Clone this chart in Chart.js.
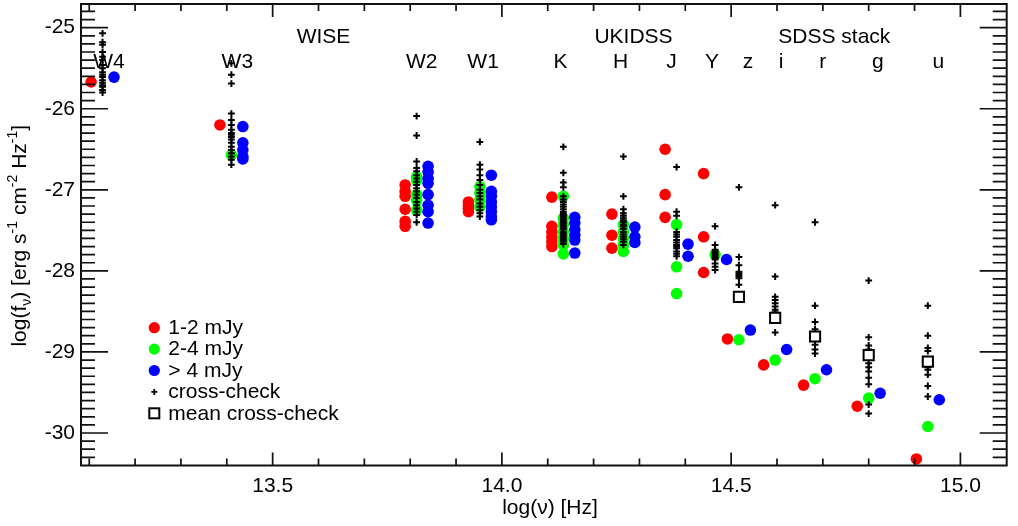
<!DOCTYPE html>
<html>
<head>
<meta charset="utf-8">
<script src="https://cdn.jsdelivr.net/npm/chart.js@4.4.1/dist/chart.umd.min.js"></script>
<style>
html,body{margin:0;padding:0;background:#fff;overflow:hidden}
canvas{display:block}
</style>
</head>
<body>
<canvas id="c" width="1018" height="526" style="width:1018px;height:526px"></canvas>
<script>
// ---------------- data ----------------
const bands = ['W4','W3','W2','W1','K','H','J','Y','z','i','r','g','u'];
const bandLogNu = [13.129,13.410,13.814,13.952,14.134,14.265,14.381,14.465,14.517,14.596,14.683,14.800,14.929];
const bandLabelNu = [13.143,13.423,13.825,13.959,14.128,14.259,14.370,14.458,14.537,14.609,14.700,14.820,14.952];
const surveys = ['WISE','UKIDSS','SDSS stack'];
const surveyLabelNu = [13.611,14.287,14.725];

const flux1to2 = [
  [-25.67],
  [-26.20],
  [-26.94,-27.02,-27.08,-27.24,-27.39,-27.45],
  [-27.15,-27.19,-27.23,-27.27],
  [-27.09,-27.45,-27.52,-27.58,-27.64,-27.70],
  [-27.30,-27.56,-27.72],
  [-26.50,-27.06,-27.34],
  [-26.80,-27.58,-28.02],
  [-28.84],
  [-29.16],
  [-29.41],
  [-29.67],
  [-30.32]
];
const flux2to4 = [
  [],
  [-26.57],
  [-26.84,-26.88,-27.06,-27.13,-27.25],
  [-26.96,-27.04,-27.12,-27.21],
  [-27.08,-27.35,-27.43,-27.52,-27.60,-27.68,-27.79],
  [-27.43,-27.52,-27.60,-27.68,-27.76],
  [-27.43,-27.95,-28.28],
  [-27.80],
  [-28.85],
  [-29.10],
  [-29.33],
  [-29.57],
  [-29.92]
];
const fluxGt4 = [
  [-25.61],
  [-26.22,-26.42,-26.51,-26.59,-26.62],
  [-26.71,-26.78,-26.86,-26.92,-27.06,-27.19,-27.27,-27.41],
  [-26.82,-27.02,-27.08,-27.15,-27.21,-27.27,-27.33,-27.37],
  [-27.34,-27.41,-27.49,-27.56,-27.62,-27.78],
  [-27.46,-27.58,-27.65],
  [-27.67,-27.82],
  [-27.86],
  [-28.73],
  [-28.97],
  [-29.22],
  [-29.51],
  [-29.59]
];
const crossCheck = [
  [-25.07,-25.18,-25.21,-25.30,-25.36,-25.40,-25.46,-25.50,-25.55,-25.58,-25.61,-25.65,-25.68,-25.71,-25.73,-25.77,-25.80],
  [-25.44,-25.58,-25.69,-26.06,-26.14,-26.20,-26.26,-26.30,-26.32,-26.35,-26.38,-26.42,-26.47,-26.51,-26.55,-26.59,-26.63,-26.69],
  [-26.09,-26.33,-26.65,-26.73,-26.77,-26.82,-26.86,-26.90,-26.94,-26.98,-27.02,-27.06,-27.10,-27.15,-27.19,-27.23,-27.27,-27.31,-27.40],
  [-26.41,-26.69,-26.75,-26.82,-26.88,-26.94,-27.00,-27.04,-27.08,-27.12,-27.17,-27.21,-27.25,-27.29,-27.33],
  [-26.47,-26.79,-26.91,-26.97,-27.08,-27.12,-27.15,-27.18,-27.21,-27.24,-27.27,-27.29,-27.31,-27.33,-27.35,-27.37,-27.39,-27.41,-27.43,-27.45,-27.47,-27.49,-27.52,-27.54,-27.56,-27.58,-27.60,-27.62,-27.64,-27.67],
  [-26.59,-27.08,-27.24,-27.29,-27.32,-27.35,-27.38,-27.40,-27.43,-27.45,-27.48,-27.52,-27.55,-27.58,-27.61,-27.64,-27.68],
  [-26.72,-27.27,-27.32,-27.52,-27.55,-27.58,-27.62,-27.65,-27.68,-27.70,-27.72,-27.76,-27.79,-27.82],
  [-27.45,-27.68,-27.74,-27.76,-27.78,-27.80,-27.82,-27.84,-27.86,-27.91,-27.95,-27.99],
  [-26.97,-27.83,-27.93,-28.01,-28.03,-28.05,-28.07,-28.09,-28.17],
  [-27.19,-28.07,-28.32,-28.36,-28.40,-28.44,-28.48,-28.51,-28.76],
  [-27.40,-28.43,-28.63,-28.72,-28.78,-28.85,-28.91,-28.97,-29.02],
  [-28.12,-28.82,-28.92,-28.97,-29.14,-29.19,-29.24,-29.32,-29.40,-29.65,-29.76],
  [-28.43,-28.80,-28.95,-28.99,-29.19,-29.22,-29.28,-29.42,-29.55]
];
const meanCrossCheck = [null,null,null,null,null,null,null,null,-28.32,-28.58,-28.81,-29.04,-29.12];

const xTicks = [13.5,14.0,14.5,15.0];
const yTicks = [-25,-26,-27,-28,-29,-30];
const legendLabels = ['1-2 mJy','2-4 mJy','> 4 mJy','cross-check','mean cross-check'];

// ---------------- styling ----------------
const FONT = '"Liberation Sans", Arial, Helvetica, sans-serif';
const BAND_OFFSET = 0.025;
const SURVEY_LABEL_Y = -25.12;
const BAND_LABEL_Y = -25.43;
const RED = '#ff0000', GREEN = '#00ff00', BLUE = '#0000ff', INK = '#000000';

function toPoints(groups, dx) {
  const out = [];
  groups.forEach((vals, i) => {
    (Array.isArray(vals) ? vals : [vals]).forEach(v => {
      if (v !== null && v !== undefined) out.push({x: bandLogNu[i] + dx, y: v});
    });
  });
  return out;
}

const circleDs = (label, data, color, order) => ({
  label, data, order, clip: false,
  pointStyle: 'circle', pointRadius: 5.8, pointBorderWidth: 0,
  pointBackgroundColor: color, pointBorderColor: color
});

const framePlugin = {
  id: 'frame',
  beforeDatasetsDraw(chart) {
    const {ctx, scales: {x, y}} = chart;
    ctx.save();
    ctx.fillStyle = INK;
    ctx.font = '21px ' + FONT;
    ctx.textAlign = 'center';
    ctx.textBaseline = 'middle';
    surveys.forEach((s, i) => ctx.fillText(s, x.getPixelForValue(surveyLabelNu[i]), y.getPixelForValue(SURVEY_LABEL_Y)));
    bands.forEach((b, i) => ctx.fillText(b, x.getPixelForValue(bandLabelNu[i]), y.getPixelForValue(BAND_LABEL_Y)));
    ctx.restore();
  },
  afterDatasetsDraw(chart) {
    const {ctx, chartArea: a, scales: {x, y}} = chart;
    ctx.save();
    // ticks
    ctx.strokeStyle = '#111';
    ctx.lineWidth = 1.7;
    ctx.beginPath();
    for (let k = Math.ceil(x.min * 10); k <= Math.floor(x.max * 10); k++) {
      const px = x.getPixelForValue(k / 10);
      if (px < a.left + 1 || px > a.right - 1) continue;
      const len = (k % 5 === 0) ? 13 : 7;
      ctx.moveTo(px, a.bottom); ctx.lineTo(px, a.bottom - len);
      ctx.moveTo(px, a.top); ctx.lineTo(px, a.top + len);
    }
    for (let k = Math.ceil(y.min * 10); k <= Math.floor(y.max * 10); k++) {
      const py = y.getPixelForValue(k / 10);
      if (py < a.top + 1 || py > a.bottom - 1) continue;
      const len = (k % 10 === 0) ? 27 : 14;
      ctx.moveTo(a.left, py); ctx.lineTo(a.left + len, py);
      ctx.moveTo(a.right, py); ctx.lineTo(a.right - len, py);
    }
    ctx.stroke();
    // frame
    ctx.lineWidth = 2;
    ctx.strokeRect(a.left, a.top, a.right - a.left, a.bottom - a.top);

    // x title
    ctx.fillStyle = INK;
    ctx.font = '21px ' + FONT;
    ctx.textAlign = 'center';
    ctx.textBaseline = 'alphabetic';
    ctx.fillText('log(\u03bd) [Hz]', a.left + 469, 513.5);

    // y title with sub/superscripts
    const parts = [
      {t: 'log(f', s: 21, dy: 0},
      {t: '\u03bd', s: 14, dy: 5},
      {t: ') [erg s', s: 21, dy: 0},
      {t: '-1', s: 14, dy: -9},
      {t: ' cm', s: 21, dy: 0},
      {t: '-2', s: 14, dy: -9},
      {t: ' Hz', s: 21, dy: 0},
      {t: '-1', s: 14, dy: -9},
      {t: ']', s: 21, dy: 0}
    ];
    let total = 0;
    parts.forEach(p => { ctx.font = p.s + 'px ' + FONT; p.w = ctx.measureText(p.t).width; total += p.w; });
    ctx.save();
    ctx.translate(26, (a.top + a.bottom) / 2 + 1);
    ctx.rotate(-Math.PI / 2);
    ctx.textAlign = 'left';
    let cx = -total / 2;
    parts.forEach(p => { ctx.font = p.s + 'px ' + FONT; ctx.fillText(p.t, cx, p.dy); cx += p.w; });
    ctx.restore();

    // legend
    const lx = a.left + 73.3, ly0 = a.top + 323.7, step = 21.4;
    ctx.font = '21px ' + FONT;
    ctx.textAlign = 'left';
    ctx.textBaseline = 'middle';
    legendLabels.forEach((lab, i) => {
      const ly = ly0 + i * step;
      if (i < 3) {
        ctx.fillStyle = [RED, GREEN, BLUE][i];
        ctx.beginPath(); ctx.arc(lx, ly, 5.6, 0, Math.PI * 2); ctx.fill();
      } else if (i === 3) {
        ctx.strokeStyle = INK; ctx.lineWidth = 1.8;
        ctx.beginPath();
        ctx.moveTo(lx - 3, ly); ctx.lineTo(lx + 3, ly);
        ctx.moveTo(lx, ly - 3); ctx.lineTo(lx, ly + 3);
        ctx.stroke();
      } else {
        ctx.strokeStyle = INK; ctx.lineWidth = 2;
        ctx.fillStyle = '#fff';
        ctx.fillRect(lx - 5, ly - 5, 10, 10);
        ctx.strokeRect(lx - 5, ly - 5, 10, 10);
      }
      ctx.fillStyle = INK;
      ctx.fillText(lab, lx + 14, ly + 0.5);
    });
    ctx.restore();
  }
};

new Chart(document.getElementById('c'), {
  type: 'scatter',
  data: {
    datasets: [
      circleDs('1-2 mJy', toPoints(flux1to2, -BAND_OFFSET), RED, 5),
      circleDs('2-4 mJy', toPoints(flux2to4, 0), GREEN, 4),
      circleDs('> 4 mJy', toPoints(fluxGt4, BAND_OFFSET), BLUE, 3),
      {
        label: 'cross-check', data: toPoints(crossCheck, 0), order: 2, clip: false,
        pointStyle: 'cross', pointRadius: 3.4, pointBorderWidth: 2,
        pointBorderColor: INK, pointBackgroundColor: INK
      },
      {
        label: 'mean cross-check', data: toPoints(meanCrossCheck, 0), order: 1, clip: false,
        pointStyle: 'rect', pointRadius: 7.2, pointBorderWidth: 2,
        pointBorderColor: INK, pointBackgroundColor: '#ffffff'
      }
    ]
  },
  options: {
    responsive: false,
    devicePixelRatio: 1,
    animation: false,
    events: [],
    layout: {autoPadding: false, padding: {top: 4, right: 11.3, bottom: 0, left: 0}},
    plugins: {legend: {display: false}, tooltip: {enabled: false}},
    scales: {
      x: {
        type: 'linear', min: 13.082, max: 15.101,
        grid: {display: false, drawTicks: false},
        border: {display: false},
        afterBuildTicks: s => { s.ticks = xTicks.map(v => ({value: v})); },
        ticks: {
          padding: 8, color: INK, autoSkip: false, maxRotation: 0,
          font: {family: FONT, size: 21},
          callback: v => Number(v).toFixed(1)
        },
        afterFit: s => { s.height = 60.5; s.paddingLeft = 0; s.paddingRight = 0; }
      },
      y: {
        type: 'linear', min: -30.401, max: -24.708,
        grid: {display: false, drawTicks: false},
        border: {display: false},
        afterBuildTicks: s => { s.ticks = yTicks.map(v => ({value: v})); },
        ticks: {
          padding: 6, color: INK, autoSkip: false,
          font: {family: FONT, size: 21},
          callback: v => String(v)
        },
        afterFit: s => { s.width = 81; s.paddingTop = 0; s.paddingBottom = 0; }
      }
    }
  },
  plugins: [framePlugin]
});
</script>
</body>
</html>
